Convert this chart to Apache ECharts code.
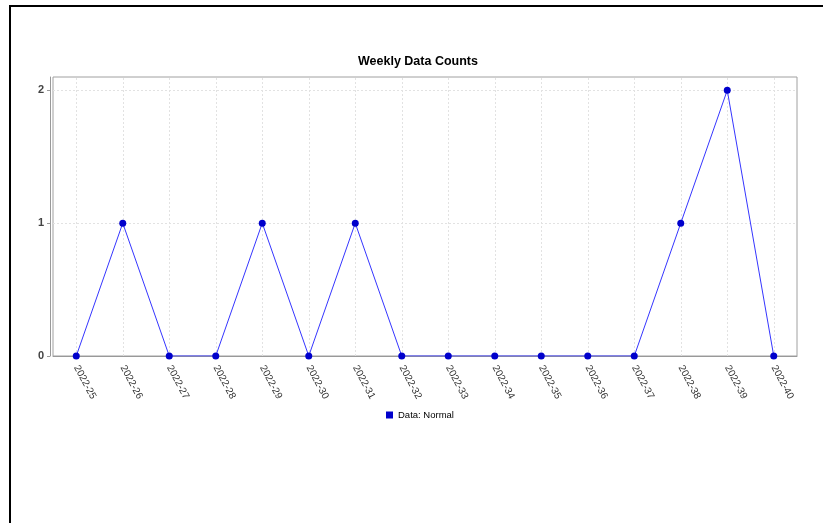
<!DOCTYPE html>
<html>
<head>
<meta charset="utf-8">
<script src="https://cdn.jsdelivr.net/npm/echarts@6/dist/echarts.min.js"></script>
<style>
html,body{margin:0;padding:0;background:#fff;}
#c{width:823px;height:523px;}
</style>
</head>
<body>
<div id="c"></div>
<script>
var categories = ['2022-25','2022-26','2022-27','2022-28','2022-29','2022-30','2022-31','2022-32','2022-33','2022-34','2022-35','2022-36','2022-37','2022-38','2022-39','2022-40'];
var counts = [0,1,0,0,1,0,1,0,0,0,0,0,0,1,2,0];
var yTicks = [0,1,2];
var titleText = 'Weekly Data Counts';
var seriesName = 'Data: Normal';

var chart = echarts.init(document.getElementById('c'), null, {renderer:'canvas'});
chart.setOption({
  animation:false,
  backgroundColor:'#fff',
  graphic:[{type:'rect', shape:{x:10,y:6,width:1200,height:1200}, style:{fill:'none', stroke:'#000', lineWidth:2}, z:100, silent:true}],
  title:{text:titleText, left:358, top:55, padding:0, textStyle:{fontFamily:'Liberation Sans, Arial, sans-serif', fontSize:12.5, fontWeight:'bold', color:'#000'}},
  legend:{data:[seriesName], left:386, top:410, padding:0, icon:'rect', itemWidth:7, itemHeight:7, itemGap:3,
    textStyle:{fontFamily:'Liberation Sans, Arial, sans-serif', fontSize:9.5, color:'#000'}},
  grid:{left:53, top:77, right:26, bottom:167, show:true, borderColor:'#a0a0a0', borderWidth:1, containLabel:false},
  xAxis:{type:'category', data:categories, boundaryGap:true, offset:5,
    axisLine:{lineStyle:{color:'#999'}},
    axisTick:{alignWithLabel:true, length:2, lineStyle:{color:'#999'}},
    axisLabel:{rotate:-62, fontSize:10, color:'#333', fontFamily:'Liberation Sans, Arial, sans-serif', margin:5},
    splitLine:{show:false}},
  yAxis:{type:'value', min:0, max:2.1, interval:1, offset:3,
    axisLine:{show:true, lineStyle:{color:'#999'}},
    axisTick:{show:true, length:3, customValues:yTicks, lineStyle:{color:'#999'}},
    axisLabel:{customValues:yTicks, fontSize:11, fontWeight:'bold', color:'#444', fontFamily:'Liberation Sans, Arial, sans-serif', margin:6},
    splitLine:{show:true, lineStyle:{color:'#e2e2e2', type:[2,2]}}},
  series:[{name:seriesName, type:'line', data:counts,
    symbol:'circle', symbolSize:7,
    itemStyle:{color:'#0000cc'},
    lineStyle:{color:'#3535ff', width:1},
    markLine:{silent:true, symbol:'none', label:{show:false}, animation:false,
      lineStyle:{color:'#e2e2e2', type:[2,2], width:1},
      data:categories.map(function(c){return {xAxis:c};}), z:1}
  }]
});
</script>
</body>
</html>
